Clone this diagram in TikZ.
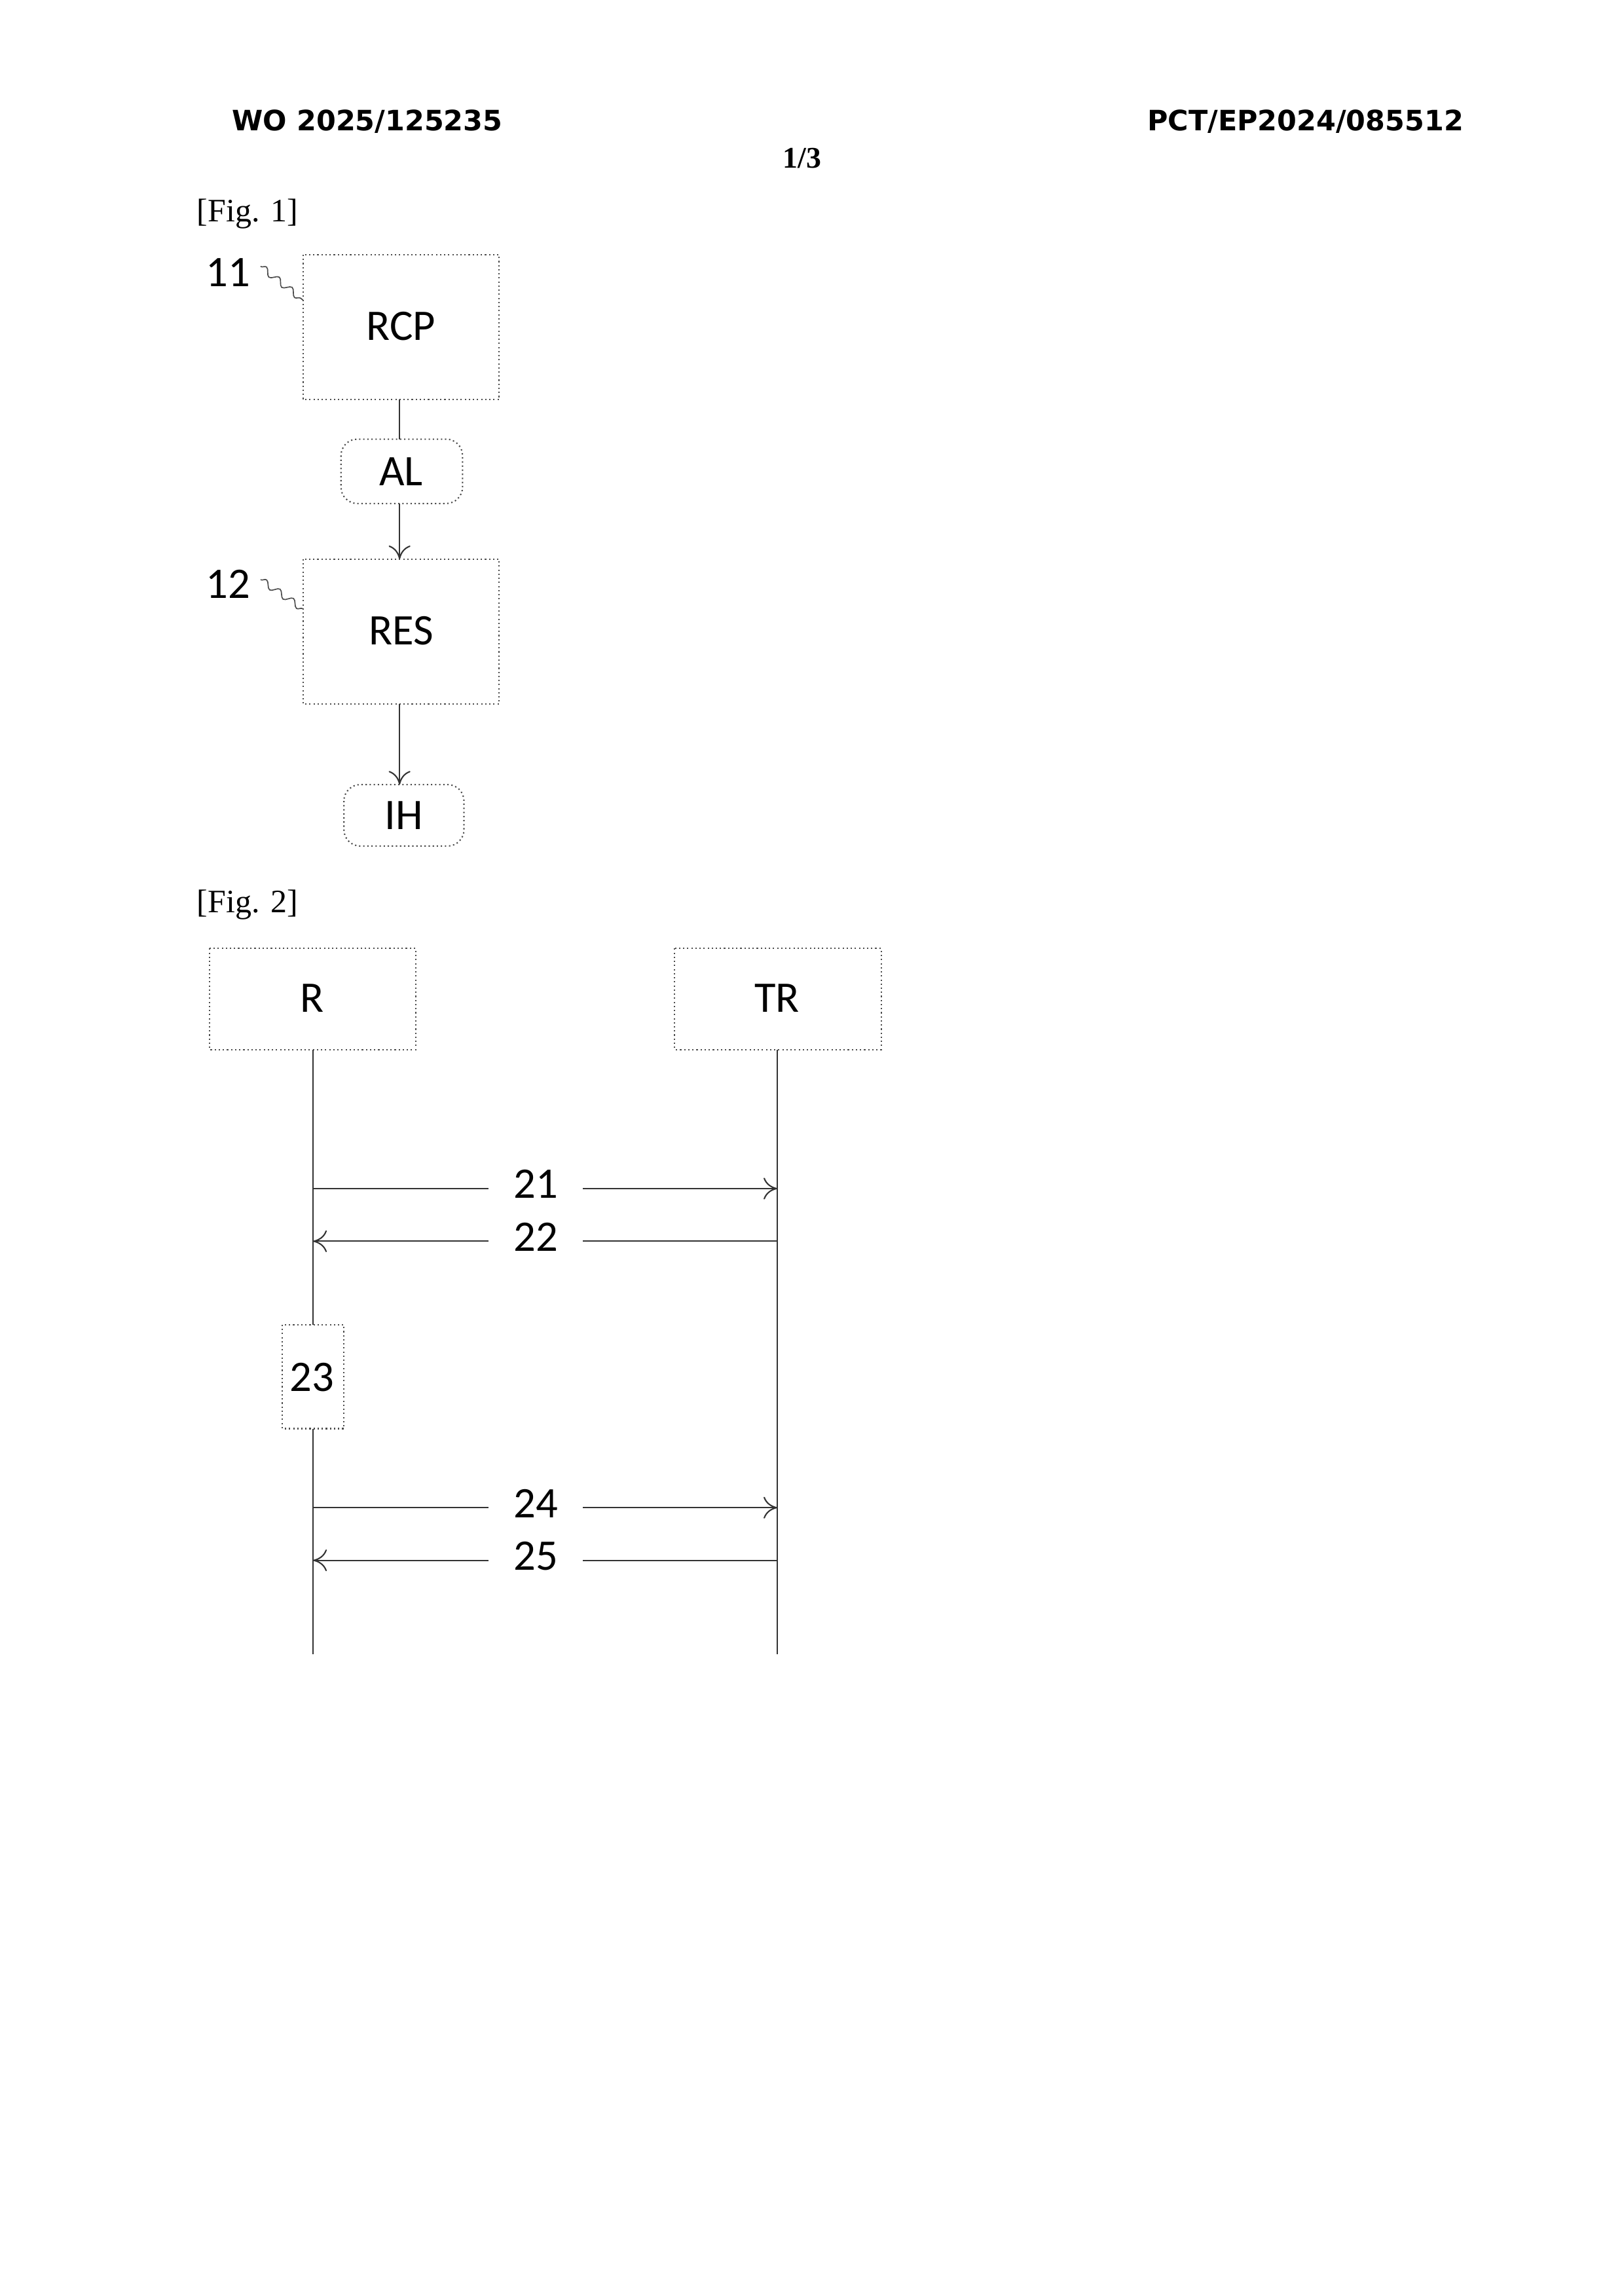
\documentclass[tikz,border=0pt]{standalone}
\usepackage{fontspec}
\setmainfont{Liberation Serif}
\newfontfamily\lab{Carlito}
\newfontfamily\hdr{DejaVu Sans}
\usetikzlibrary{arrows.meta,decorations.pathmorphing}
\begin{document}
\begin{tikzpicture}[x=0.537pt,y=-0.537pt,
  bx/.style={draw=black!70,line width=0.5pt,densely dotted,inner sep=0},
  lt/.style={font=\lab\fontsize{16}{16}\selectfont},
  ln/.style={draw=black!80,line width=0.5pt},
  ar/.style={ln,-{To[length=5pt,width=8pt]}},
  sq/.style={draw=black!70,line width=0.4pt,decorate,decoration={snake,amplitude=1.2pt,segment length=6pt}}]
\useasboundingbox (0,0) rectangle (1108.2,1568.6);
\fill[white] (0,0) rectangle (1108.2,1568.6);
\node[font=\hdr\bfseries\fontsize{10.3}{10.3}\selectfont] (h1) at (251,83) {WO 2025/125235};
\node[font=\hdr\bfseries\fontsize{10.3}{10.3}\selectfont] (h2) at (892,83) {PCT/EP2024/085512};
\node[font=\bfseries\fontsize{11}{11}\selectfont] (pg) at (548,108) {1/3};
\node[anchor=west,font=\fontsize{12}{12}\selectfont] (f1) at (128,146) {[Fig. 1]};
\node[anchor=west,font=\fontsize{12}{12}\selectfont] (f2) at (128,618) {[Fig. 2]};
% Fig 1
\draw[bx] (207,174) rectangle (341,273); \node[lt] (rcp) at (274,223) {RCP};
\coordinate (rcpb) at (273,273);
\draw[bx,rounded corners=6pt] (233,300) rectangle (316,344); \node[lt] (al) at (274,322) {AL};
\coordinate (alt) at (273,300); \coordinate (alb) at (273,344);
\draw[bx] (207,382) rectangle (341,481); \node[lt] (res) at (274,431) {RES};
\coordinate (rest) at (273,382); \coordinate (resb) at (273,481);
\draw[bx,rounded corners=6pt] (235,536) rectangle (317,578); \node[lt] (ih) at (276,557) {IH};
\coordinate (iht) at (273,536);
\draw[ln] (rcpb) -- (alt);
\draw[ar] (alb) -- (rest);
\draw[ar] (resb) -- (iht);
\node[lt] (n11) at (156,186) {11};
\node[lt] (n12) at (156,399) {12};
\coordinate (s1a) at (178,182); \coordinate (s1b) at (207,205);
\coordinate (s2a) at (178,396); \coordinate (s2b) at (207,416);
\draw[sq] (s1a) -- (s1b);
\draw[sq] (s2a) -- (s2b);
% Fig 2
\draw[bx] (143,648) rectangle (284,717); \node[lt] (r) at (213,682) {R};
\draw[bx] (461,648) rectangle (602,717); \node[lt] (tr) at (531,682) {TR};
\draw[bx] (193,905) rectangle (235,976); \node[lt] (n23) at (213,941) {23};
\coordinate (ra) at (214,717); \coordinate (rb) at (214,905);
\coordinate (rc) at (214,976); \coordinate (rd) at (214,1130);
\coordinate (ta) at (531,717); \coordinate (tb) at (531,1130);
\draw[ln] (ra) -- (rb); \draw[ln] (rc) -- (rd); \draw[ln] (ta) -- (tb);
\foreach \y/\t/\d in {812/21/1,848/22/0,1030/24/1,1066/25/0}{
  \node[lt,fill=white,inner xsep=9pt] (m\t) at (366,\y-3) {\t};
  \ifnum\d=1
    \draw[ln] (214,\y) -- (m\t.west|-0,\y); \draw[ar] (m\t.east|-0,\y) -- (531,\y);
  \else
    \draw[ln] (531,\y) -- (m\t.east|-0,\y); \draw[ar] (m\t.west|-0,\y) -- (214,\y);
  \fi}
\end{tikzpicture}
\end{document}
